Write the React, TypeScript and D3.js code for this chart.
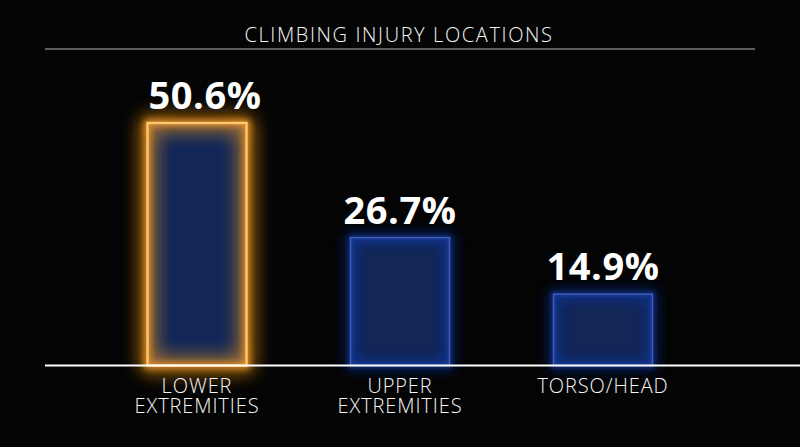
import { useEffect, useRef } from 'react'
import * as d3 from 'd3'

const categories = ['LOWER\nEXTREMITIES', 'UPPER\nEXTREMITIES', 'TORSO/HEAD']
const values = [50.6, 26.7, 14.9]
const highlighted = [true, false, false]
const title = 'CLIMBING INJURY LOCATIONS'

export default function App() {
  const svgRef = useRef<SVGSVGElement>(null)

  useEffect(() => {
    if (!svgRef.current) return
    const svg = d3.select(svgRef.current)
    svg.selectAll('*').remove()

    const width = 800
    const height = 447
    const baseY = 365.5

    svg.attr('width', width).attr('height', height)

    const defs = svg.append('defs')
    const addGlow = (id: string, std: number) => {
      const f = defs.append('filter').attr('id', id)
        .attr('x', '-50%').attr('y', '-50%').attr('width', '200%').attr('height', '200%')
      f.append('feGaussianBlur').attr('in', 'SourceGraphic').attr('stdDeviation', std).attr('result', 'b1')
      f.append('feGaussianBlur').attr('in', 'SourceGraphic').attr('stdDeviation', std / 3).attr('result', 'b2')
      const m = f.append('feMerge')
      m.append('feMergeNode').attr('in', 'b1')
      m.append('feMergeNode').attr('in', 'b1')
      m.append('feMergeNode').attr('in', 'b2')
    }
    addGlow('glowOrange', 10)
    addGlow('glowBlue', 7)

    svg.append('rect').attr('width', width).attr('height', height).attr('fill', '#040404')

    // title
    svg.append('text')
      .attr('x', 399).attr('y', 42)
      .attr('text-anchor', 'middle')
      .attr('fill', '#f4f4f4')
      .attr('font-family', '"Open Sans", sans-serif')
      .attr('font-weight', 300)
      .attr('font-size', 20)
      .attr('letter-spacing', 1.6)
      .text(title)

    svg.append('line')
      .attr('x1', 45).attr('x2', 755).attr('y1', 49).attr('y2', 49)
      .attr('stroke', '#7a7a7a').attr('stroke-width', 1.5)

    const x = d3.scalePoint<number>().domain(d3.range(categories.length)).range([197, 603])
    const y = d3.scaleLinear().domain([0, 50.6]).range([baseY, 123])
    const barW = 99

    const g = svg.append('g')

    categories.forEach((cat, i) => {
      const cx = x(i) as number
      const top = y(values[i])
      const hi = highlighted[i]

      // navy body
      g.append('rect')
        .attr('x', cx - barW / 2).attr('y', top)
        .attr('width', barW).attr('height', baseY - top)
        .attr('fill', '#122658')

      // glow around the outline (spills inside and outside)
      g.append('rect')
        .attr('x', cx - barW / 2).attr('y', top)
        .attr('width', barW).attr('height', baseY - top)
        .attr('fill', 'none')
        .attr('stroke', hi ? '#ec962c' : '#2446c4')
        .attr('stroke-width', hi ? 6 : 4)
        .attr('opacity', hi ? 1 : 0.65)
        .attr('filter', `url(#${hi ? 'glowOrange' : 'glowBlue'})`)

      g.append('rect')
        .attr('x', cx - barW / 2).attr('y', top)
        .attr('width', barW).attr('height', baseY - top)
        .attr('fill', 'none')
        .attr('stroke', hi ? '#ffc870' : '#3f5fc4')
        .attr('stroke-width', hi ? 2.4 : 1.4)

      g.append('text')
        .attr('x', cx + (hi ? 8 : 0)).attr('y', top - 14)
        .attr('text-anchor', 'middle')
        .attr('fill', '#ffffff')
        .attr('font-family', '"Open Sans", sans-serif')
        .attr('font-weight', 700)
        .attr('font-size', 38)
        .attr('letter-spacing', 0.5)
        .text(`${values[i]}%`)

      const lines = cat.split('\n')
      const t = g.append('text')
        .attr('text-anchor', 'middle')
        .attr('fill', '#f6f6f6')
        .attr('font-family', '"Open Sans", sans-serif')
        .attr('font-weight', 300)
        .attr('font-size', 20)
        .attr('letter-spacing', 0.9)
      lines.forEach((ln, k) => {
        t.append('tspan').attr('x', cx).attr('y', 392.5 + k * 20.5).text(ln)
      })
    })

    svg.append('line')
      .attr('x1', 45).attr('x2', 800).attr('y1', baseY).attr('y2', baseY)
      .attr('stroke', '#ffffff').attr('stroke-width', 2)
  }, [])

  return <svg ref={svgRef} style={{ display: 'block', position: 'absolute', left: 0, top: 0 }} />
}
